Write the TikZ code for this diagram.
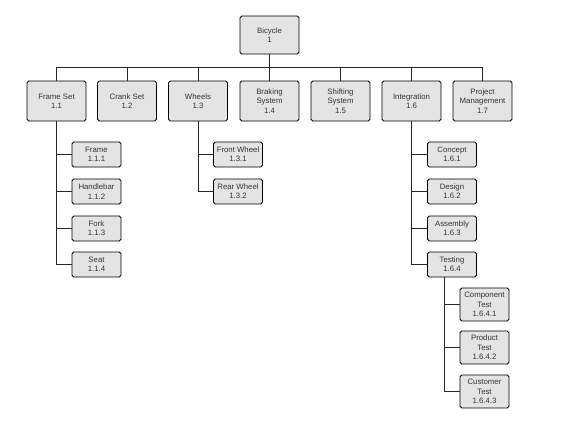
\documentclass[tikz,border=0pt]{standalone}
\usepackage{fontspec}
\setmainfont{Liberation Sans}
\usepackage{xcolor}
\definecolor{boxgray}{HTML}{E4E4E4}
\definecolor{inkgray}{HTML}{333333}
\usetikzlibrary{calc}

\begin{document}
\begin{tikzpicture}[x=1pt, y=-1pt,
    wbs/.style={draw=black, fill=boxgray, text=inkgray, line width=0.9pt, rounded corners=1.8pt,
                inner sep=0pt, align=center, font=\fontsize{7.8}{9.4}\selectfont},
    top/.style={wbs, minimum width=59pt, minimum height=38pt},
    mid/.style={wbs, minimum width=59pt, minimum height=40pt},
    leaf/.style={wbs, minimum width=49pt, minimum height=25pt},
    deep/.style={wbs, minimum width=49pt, minimum height=33pt},
    link/.style={draw=black!85, line width=0.8pt}]
    \useasboundingbox (0,0) rectangle (570,423);
    % --- Root ---
    \node[top] (bike) at (269.5,35) {Bicycle\\1};
    \coordinate (bus) at (269.5,67);
    % --- Level 1 ---
    \node[mid] (fs) at (56.5,101) {Frame Set\\1.1};
    \node[mid] (cs) at (127,101) {Crank Set\\1.2};
    \node[mid] (wh) at (198,101) {Wheels\\1.3};
    \node[mid] (br) at (269.5,101) {Braking\\System\\1.4};
    \node[mid] (sh) at (340.5,101) {Shifting\\System\\1.5};
    \node[mid] (in) at (411.5,101) {Integration\\1.6};
    \node[mid] (pm) at (482.5,101) {Project\\Management\\1.7};
    \draw[link] (bike.south) -- (bus);
    \foreach \n in {fs,cs,wh,br,sh,in,pm}
      \draw[link] (\n.north) |- (bus);
    % --- Frame set parts ---
    \node[leaf] (fr) at (96.5,154.5) {Frame\\1.1.1};
    \node[leaf] (hb) at (96.5,191.5) {Handlebar\\1.1.2};
    \node[leaf] (fk) at (96.5,228.5) {Fork\\1.1.3};
    \node[leaf] (st) at (96.5,264.5) {Seat\\1.1.4};
    \foreach \n in {fr,hb,fk,st}
      \draw[link] (fs.south) |- (\n.west);
    % --- Wheels ---
    \node[leaf] (fw) at (238,154.5) {Front Wheel\\1.3.1};
    \node[leaf] (rw) at (238,191.5) {Rear Wheel\\1.3.2};
    \foreach \n in {fw,rw}
      \draw[link] (wh.south) |- (\n.west);
    % --- Integration ---
    \node[leaf] (co) at (452,154.5) {Concept\\1.6.1};
    \node[leaf] (de) at (452,191.5) {Design\\1.6.2};
    \node[leaf] (as) at (452,228.5) {Assembly\\1.6.3};
    \node[leaf] (te) at (452,264.5) {Testing\\1.6.4};
    \foreach \n in {co,de,as,te}
      \draw[link] (in.south) |- (\n.west);
    % --- Testing ---
    \node[deep] (ct) at (484.5,304.5) {Component\\Test\\1.6.4.1};
    \node[deep] (pt) at (484.5,347.5) {Product\\Test\\1.6.4.2};
    \node[deep] (cu) at (484.5,391.5) {Customer\\Test\\1.6.4.3};
    \foreach \n in {ct,pt,cu}
      \draw[link] ($(te.south)+(-8,0)$) |- (\n.west);
\end{tikzpicture}
\end{document}
